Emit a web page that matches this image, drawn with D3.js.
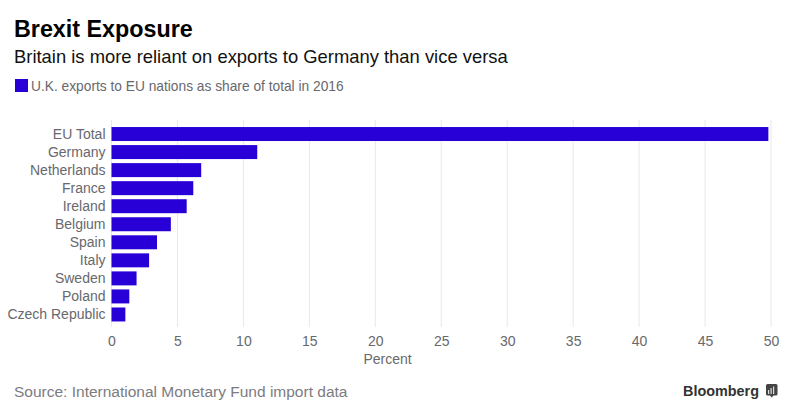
<!DOCTYPE html>
<html><head><meta charset="utf-8">
<script src="https://cdn.jsdelivr.net/npm/d3@7"></script>
<style>
html,body{margin:0;padding:0;background:#fff}
svg{display:block}
text{font-family:"Liberation Sans",Arial,sans-serif}
</style></head><body>
<svg id="c" width="788" height="416"></svg>
<script>
const categories=["EU Total","Germany","Netherlands","France","Ireland","Belgium","Spain","Italy","Sweden","Poland","Czech Republic"];
const shares=[49.8,11.05,6.8,6.2,5.7,4.5,3.45,2.85,1.9,1.35,1.05];
const xTicks=[0,5,10,15,20,25,30,35,40,45,50];
const svg=d3.select("#c");
const x=d3.scaleLinear().domain([0,50]).range([111.5,771]);
const y=d3.scaleBand().domain(categories).range([125,323.5]).paddingInner(0.225).paddingOuter(0.1125);
const gray="#68686d";
svg.append("text").attr("x",14).attr("y",37).attr("font-size",23.3).attr("font-weight",700).attr("fill","#000").text("Brexit Exposure");
svg.append("text").attr("x",14).attr("y",63).attr("font-size",18.4).attr("fill","#111").text("Britain is more reliant on exports to Germany than vice versa");
svg.append("rect").attr("x",15).attr("y",79).attr("width",13).attr("height",13).attr("fill","#2800d7");
svg.append("text").attr("x",31).attr("y",91).attr("font-size",13.75).attr("fill",gray).text("U.K. exports to EU nations as share of total in 2016");
svg.append("g").selectAll("line").data(xTicks).join("line")
 .attr("x1",d=>x(d)).attr("x2",d=>x(d)).attr("y1",120).attr("y2",327)
 .attr("stroke","#e8e8ea").attr("stroke-width",1);
svg.append("g").selectAll("rect").data(categories).join("rect")
 .attr("x",x(0)).attr("y",d=>y(d)).attr("height",y.bandwidth())
 .attr("width",(d,i)=>x(shares[i])-x(0)).attr("fill","#2800d7");
svg.append("g").selectAll("text").data(categories).join("text")
 .attr("x",105.5).attr("y",d=>y(d)+y.bandwidth()/2+4.5).attr("text-anchor","end")
 .attr("font-size",14).attr("fill",gray).text(d=>d);
const axis=d3.axisBottom(x).tickValues(xTicks).tickSize(0).tickPadding(0);
const ax=svg.append("g").attr("transform","translate(0,336)").call(axis);
ax.select(".domain").remove();
ax.selectAll("text").attr("font-size",14).attr("fill",gray).attr("font-family",'"Liberation Sans",Arial,sans-serif');
svg.append("text").attr("x",387.5).attr("y",364).attr("text-anchor","middle").attr("font-size",14).attr("fill",gray).text("Percent");
svg.append("text").attr("x",14).attr("y",396.5).attr("font-size",15.5).attr("fill","#7c7c80").text("Source: International Monetary Fund import data");
svg.append("text").attr("x",683).attr("y",396).attr("font-size",14.4).attr("font-weight",700).attr("fill","#333").text("Bloomberg");
svg.append("path").attr("d","M766 385.5q0-1.5 1.5-1.5h8.5q1.5 0 1.5 1.5v8.5q0 1.5-1.5 1.5h-2.5l-1.75 2-1.75-2h-2.5q-1.5 0-1.5-1.5z").attr("fill","#444");
svg.append("g").selectAll("rect").data([[768,390,1.2,4],[770.5,388,1.2,6],[773,386.5,1.2,7.5]]).join("rect")
 .attr("x",d=>d[0]).attr("y",d=>d[1]).attr("width",d=>d[2]).attr("height",d=>d[3]).attr("fill","#ddd");
</script></body></html>
